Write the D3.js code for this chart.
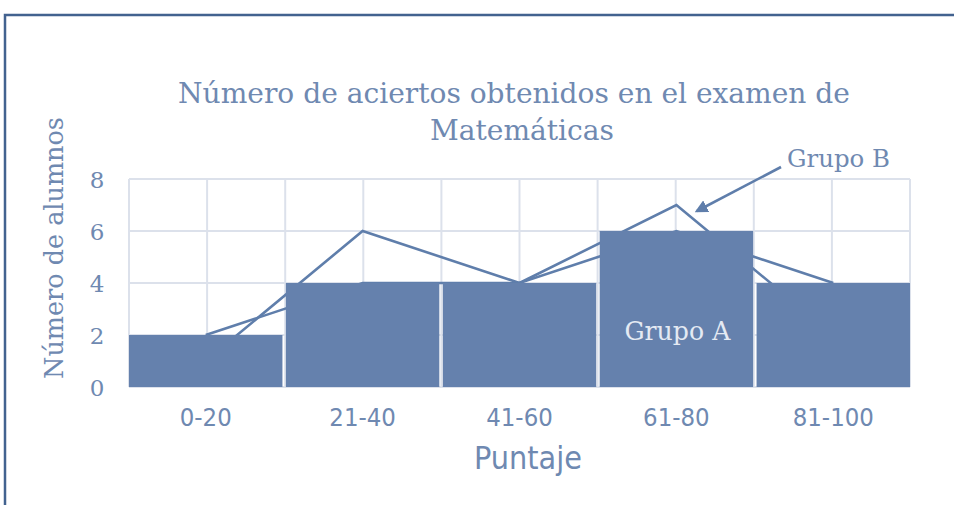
<!DOCTYPE html>
<html>
<head>
<meta charset="utf-8">
<script src="https://cdn.jsdelivr.net/npm/d3@7/dist/d3.min.js"></script>
<style>
  html, body { margin: 0; padding: 0; background: #ffffff; }
  svg { display: block; }
</style>
</head>
<body>
<svg id="chart" width="954" height="505"></svg>
<script>
// Score ranges and number of students per group
const categories = ["0-20", "21-40", "41-60", "61-80", "81-100"];
const grupoA = [2, 4, 4, 6, 4];
const grupoB = [1, 6, 4, 7, 2];
const yTicks = [0, 2, 4, 6, 8];

const titleLines = ["Número de aciertos obtenidos en el examen de", "Matemáticas"];
const xTitle = "Puntaje";
const yTitle = "Número de alumnos";

const plot = { left: 129, right: 910, top: 179, bottom: 387 };

const barColor = "#6581ad";
const lineColor = "#5f7eab";
const textColor = "#6f89b1";
const gridColor = "#dce1eb";
const serif = "'DejaVu Serif', serif";
const sans = "'DejaVu Sans Condensed', 'DejaVu Sans', sans-serif";

const svg = d3.select("#chart");

// Outer frame
svg.append("rect")
  .attr("x", 5).attr("y", 15)
  .attr("width", 1000).attr("height", 600)
  .attr("fill", "none")
  .attr("stroke", "#42628f")
  .attr("stroke-width", 2.5);

const x = d3.scaleBand()
  .domain(categories)
  .range([plot.left, plot.right])
  .paddingInner(0.022)
  .paddingOuter(0);

const y = d3.scaleLinear()
  .domain([0, 8])
  .range([plot.bottom, plot.top]);

// Grid: vertical lines every half category, horizontal at each tick
const gx = d3.scaleLinear().domain([0, 10]).range([plot.left, plot.right]);
const grid = svg.append("g");
grid.selectAll("line.v")
  .data(d3.range(0, 11))
  .join("line")
  .attr("class", "v")
  .attr("x1", d => gx(d)).attr("x2", d => gx(d))
  .attr("y1", y(8)).attr("y2", y(0))
  .attr("stroke", gridColor).attr("stroke-width", 2);
grid.selectAll("line.h")
  .data(yTicks)
  .join("line")
  .attr("class", "h")
  .attr("x1", plot.left).attr("x2", plot.right)
  .attr("y1", d => y(d)).attr("y2", d => y(d))
  .attr("stroke", gridColor).attr("stroke-width", 2);

// Frequency polygons (drawn underneath the bars)
const cx = c => x(c) + x.bandwidth() / 2;
const line = d3.line()
  .x((d, i) => cx(categories[i]))
  .y(d => y(d));

[grupoA, grupoB].forEach(series => {
  svg.append("path")
    .datum(series)
    .attr("d", line)
    .attr("fill", "none")
    .attr("stroke", lineColor)
    .attr("stroke-width", 2.6)
    .attr("stroke-linejoin", "miter");
});

// Group A bars
svg.append("g")
  .selectAll("rect")
  .data(grupoA)
  .join("rect")
  .attr("x", (d, i) => x(categories[i]))
  .attr("y", d => y(d))
  .attr("width", x.bandwidth())
  .attr("height", d => y(0) - y(d))
  .attr("fill", barColor);

// Fit a text element to a target width by adjusting its font size
function fitWidth(sel, target) {
  const w = sel.node().getComputedTextLength();
  const fs = parseFloat(sel.attr("font-size"));
  sel.attr("font-size", fs * target / w);
  return fs * target / w;
}

// Axes
const xAxis = svg.append("g")
  .attr("transform", `translate(0,${plot.bottom})`)
  .call(d3.axisBottom(x).tickSize(0).tickPadding(21));
xAxis.select(".domain").remove();
const xLabels = xAxis.selectAll("text")
  .attr("font-family", sans)
  .attr("font-size", 22)
  .attr("fill", textColor);
const xfs = fitWidth(xLabels.filter((d, i) => i === 0), 52);
xLabels.attr("font-size", xfs);

const yAxis = svg.append("g")
  .attr("transform", `translate(${plot.left},0)`)
  .call(d3.axisLeft(y).tickValues(yTicks).tickSize(0).tickPadding(32));
yAxis.select(".domain").remove();
yAxis.selectAll("text")
  .attr("font-family", serif)
  .attr("font-size", 23)
  .attr("text-anchor", "middle")
  .attr("dy", "0.36em")
  .attr("fill", textColor);

// Title
const t1 = svg.append("text")
  .attr("x", 514).attr("y", 103)
  .attr("text-anchor", "middle")
  .attr("font-family", serif).attr("font-size", 26)
  .attr("fill", textColor)
  .text(titleLines[0]);
const tfs = fitWidth(t1, 672);
svg.append("text")
  .attr("x", 522).attr("y", 140)
  .attr("text-anchor", "middle")
  .attr("font-family", serif).attr("font-size", tfs)
  .attr("fill", textColor)
  .text(titleLines[1]);

// Axis titles
const xt = svg.append("text")
  .attr("x", 528).attr("y", 469)
  .attr("text-anchor", "middle")
  .attr("font-family", sans).attr("font-size", 26)
  .attr("fill", textColor)
  .text(xTitle);
fitWidth(xt, 108);

const yt = svg.append("text")
  .attr("transform", "translate(63,248) rotate(-90)")
  .attr("text-anchor", "middle")
  .attr("font-family", serif).attr("font-size", 24)
  .attr("fill", textColor)
  .text(yTitle);
fitWidth(yt, 262);

// Annotations
svg.append("defs").append("marker")
  .attr("id", "arrow")
  .attr("viewBox", "0 0 10 10")
  .attr("refX", 8).attr("refY", 5)
  .attr("markerWidth", 5).attr("markerHeight", 5)
  .attr("orient", "auto")
  .append("path")
  .attr("d", "M0,0 L10,5 L0,10 Z")
  .attr("fill", lineColor);

svg.append("line")
  .attr("x1", 781).attr("y1", 167)
  .attr("x2", 697).attr("y2", 211)
  .attr("stroke", lineColor)
  .attr("stroke-width", 2.6)
  .attr("marker-end", "url(#arrow)");

const gb = svg.append("text")
  .attr("x", 787).attr("y", 167)
  .attr("font-family", serif).attr("font-size", 22)
  .attr("fill", textColor)
  .text("Grupo B");
fitWidth(gb, 103);

const ga = svg.append("text")
  .attr("x", cx("61-80") + 1).attr("y", 340)
  .attr("text-anchor", "middle")
  .attr("font-family", serif).attr("font-size", 22)
  .attr("fill", "#e4eaf3")
  .text("Grupo A");
fitWidth(ga, 106);
</script>
</body>
</html>
